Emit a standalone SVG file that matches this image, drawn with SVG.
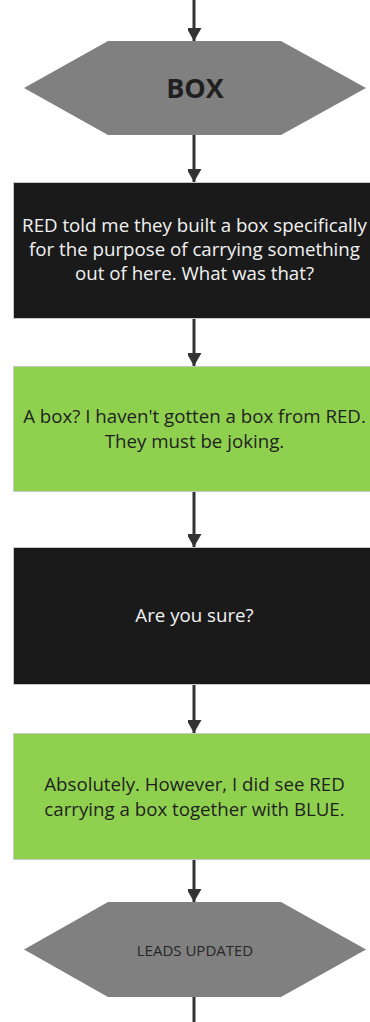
<svg xmlns="http://www.w3.org/2000/svg" width="370" height="1022" viewBox="0 0 370 1022">
  <style>
    .hex { fill: #808080; }
    .dark { fill: #1a1a1a; stroke: #c8c8c8; stroke-width: 1; }
    .green { fill: #8fd14f; stroke: #c8c8c8; stroke-width: 1; }
    .t { font-family: "Open Sans", "Noto Sans", sans-serif; font-size: 18.7px; text-anchor: middle; }
    .tw { fill: #f2f2f2; }
    .tb { fill: #1f1f1f; }
    .conn { stroke: #333333; stroke-width: 3; fill: none; }
  </style>
  <defs>
    <marker id="arrow" markerUnits="userSpaceOnUse" markerWidth="16" markerHeight="14" refX="13" refY="7.5" orient="auto">
      <path d="M0,0 L13,7.5 L0,15 Z" fill="#333333"/>
    </marker>
  </defs>
  <rect width="370" height="1022" fill="#ffffff"/>
  <g id="connectors">
    <line class="conn" x1="194" y1="0" x2="194" y2="41" marker-end="url(#arrow)"/>
    <line class="conn" x1="194" y1="135" x2="194" y2="182" marker-end="url(#arrow)"/>
    <line class="conn" x1="194" y1="319" x2="194" y2="366" marker-end="url(#arrow)"/>
    <line class="conn" x1="194" y1="492" x2="194" y2="547" marker-end="url(#arrow)"/>
    <line class="conn" x1="194" y1="685" x2="194" y2="733" marker-end="url(#arrow)"/>
    <line class="conn" x1="194" y1="860" x2="194" y2="902" marker-end="url(#arrow)"/>
    <line class="conn" x1="194" y1="997" x2="194" y2="1022"/>
  </g>
  <g id="box-hex">
    <polygon class="hex" points="24,88 108,41 281,41 366,88 281,135 108,135"/>
    <text class="t" x="195" y="98" style="font-size:27px;font-weight:bold;fill:#1f1f1f">BOX</text>
  </g>
  <g id="q1">
    <rect class="dark" x="13.5" y="182.5" width="362" height="136"/>
    <text class="t tw" x="194.5" y="232">RED told me they built a box specifically</text>
    <text class="t tw" x="194.5" y="256">for the purpose of carrying something</text>
    <text class="t tw" x="194.5" y="280">out of here. What was that?</text>
  </g>
  <g id="a1">
    <rect class="green" x="13.5" y="366.5" width="362" height="125"/>
    <text class="t tb" x="194.5" y="423">A box? I haven't gotten a box from RED.</text>
    <text class="t tb" x="194.5" y="448">They must be joking.</text>
  </g>
  <g id="q2">
    <rect class="dark" x="13.5" y="547.5" width="362" height="137"/>
    <text class="t tw" x="194.5" y="622">Are you sure?</text>
  </g>
  <g id="a2">
    <rect class="green" x="13.5" y="733.5" width="362" height="126"/>
    <text class="t tb" x="194.5" y="791">Absolutely. However, I did see RED</text>
    <text class="t tb" x="194.5" y="816">carrying a box together with BLUE.</text>
  </g>
  <g id="leads-hex">
    <polygon class="hex" points="24,949.5 108,902 281,902 366,949.5 281,997 108,997"/>
    <text class="t" x="195" y="956" style="font-size:15px;fill:#262626">LEADS UPDATED</text>
  </g>
</svg>
